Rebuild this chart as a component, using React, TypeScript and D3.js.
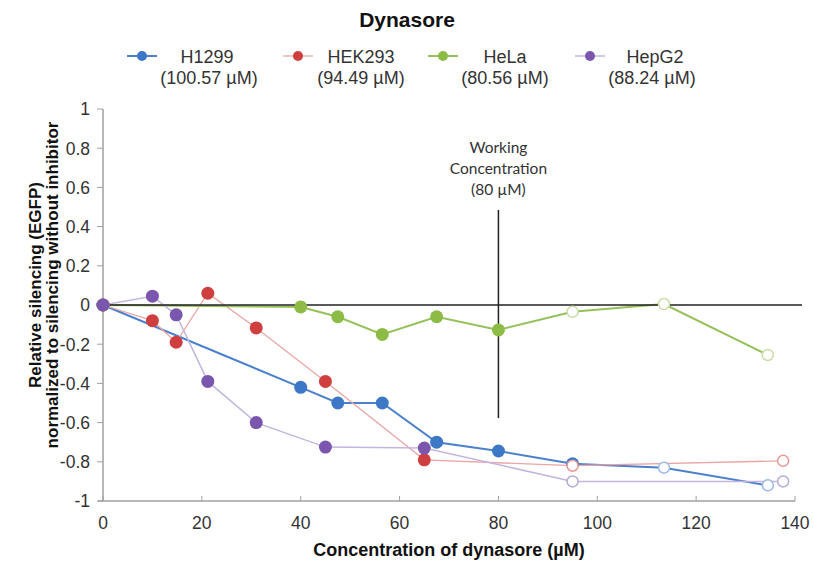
import * as d3 from "d3"

// concentrations (µM)
const concA = [0, 40, 47.5, 56.5, 67.5, 80, 95, 113.5, 134.5]
const concB = [0, 10, 14.8, 21.2, 31, 45, 65, 95, 137.6]

const h1299 = [0, -0.42, -0.5, -0.5, -0.7, -0.745, -0.81, -0.83, -0.92]
const hek293 = [0, -0.08, -0.19, 0.06, -0.117, -0.39, -0.79, -0.82, -0.795]
const hela = [0, -0.01, -0.06, -0.15, -0.06, -0.127, -0.035, 0.005, -0.255]
const hepg2 = [0, 0.045, -0.05, -0.39, -0.6, -0.725, -0.73, -0.9, -0.9]

const xTicks = [0, 20, 40, 60, 80, 100, 120, 140]
const yTicks = [1, 0.8, 0.6, 0.4, 0.2, 0, -0.2, -0.4, -0.6, -0.8, -1]

const series = [
  { name: "H1299", ic: "(100.57 µM)", x: concA, y: h1299, filled: 7, dot: "#3d78c6", line: "#4a80cc", lw: 2, open: "#9bb8e2" },
  { name: "HEK293", ic: "(94.49 µM)", x: concB, y: hek293, filled: 7, dot: "#d03f3f", line: "#eaa6a6", lw: 1.3, open: "#e89898" },
  { name: "HeLa", ic: "(80.56 µM)", x: concA, y: hela, filled: 6, dot: "#8cbc46", line: "#95c15a", lw: 2, open: "#c8dea6" },
  { name: "HepG2", ic: "(88.24 µM)", x: concB, y: hepg2, filled: 7, dot: "#7b56ae", line: "#c2b5de", lw: 1.5, open: "#b6a9d6" },
]

// legend layout: marker x, name centre, IC50 centre
const legendDot = [142, 298, 443, 590]
const legendName = [207, 361, 505, 655]
const legendIc = [209, 361, 505, 652]

export default function App() {
  const width = 814
  const height = 566
  const x = d3.scaleLinear().domain([0, 140]).range([103, 795])
  const y = d3.scaleLinear().domain([-1, 1]).range([501, 109])
  const font = "Arial, 'Liberation Sans', sans-serif"

  return (
    <svg width={width} height={height} style={{ position: "absolute", left: 0, top: 0, background: "#fff" }}>
      <text x={407} y={27} textAnchor="middle" fontFamily={font} fontWeight="bold" fontSize={21} fill="#111">
        Dynasore
      </text>

      {series.map((s, i) => (
        <g key={s.name}>
          <line x1={legendDot[i] - 15} x2={legendDot[i] + 15} y1={56} y2={56} stroke={s.line} strokeWidth={s.lw} />
          <circle cx={legendDot[i]} cy={56} r={5} fill={s.dot} />
          <text x={legendName[i]} y={63} textAnchor="middle" fontFamily={font} fontSize={18} fill="#333">
            {s.name}
          </text>
          <text x={legendIc[i]} y={84} textAnchor="middle" fontFamily={font} fontSize={18} fill="#333">
            {s.ic}
          </text>
        </g>
      ))}

      {/* y axis */}
      <line x1={x(0)} x2={x(0)} y1={y(1)} y2={y(-1)} stroke="#a0a0a0" strokeWidth={1.5} />
      {yTicks.map((t) => (
        <g key={t}>
          <line x1={x(0) - 6} x2={x(0)} y1={y(t)} y2={y(t)} stroke="#a0a0a0" strokeWidth={1} />
          <text x={90} y={y(t) + 6.3} textAnchor="end" fontFamily={font} fontSize={17.5} fill="#333">
            {t}
          </text>
        </g>
      ))}

      {/* x axis */}
      <line x1={x(0) - 5} x2={x(140)} y1={y(-1)} y2={y(-1)} stroke="#a0a0a0" strokeWidth={1.5} />
      {xTicks.map((t) => (
        <g key={t}>
          <line x1={x(t)} x2={x(t)} y1={y(-1) - 5} y2={y(-1)} stroke="#a0a0a0" strokeWidth={1} />
          <text x={x(t)} y={529} textAnchor="middle" fontFamily={font} fontSize={17.5} fill="#333">
            {t}
          </text>
        </g>
      ))}

      <text x={449} y={556} textAnchor="middle" fontFamily={font} fontWeight="bold" fontSize={18} fill="#111">
        Concentration of dynasore (µM)
      </text>
      <text transform="translate(41,285) rotate(-90)" textAnchor="middle" fontFamily={font} fontWeight="bold" fontSize={17} fill="#111">
        Relative silencing (EGFP)
      </text>
      <text transform="translate(58,285) rotate(-90)" textAnchor="middle" fontFamily={font} fontWeight="bold" fontSize={17} fill="#111">
        normalized to silencing without inhibitor
      </text>

      {/* series lines */}
      {series.map((s) => {
        const pts = s.x.map((v, j) => [v, s.y[j]] as [number, number])
        const path = d3.line<[number, number]>().x((d) => x(d[0])).y((d) => y(d[1]))(pts)
        return <path key={s.name} d={path ?? ""} fill="none" stroke={s.line} strokeWidth={s.lw} />
      })}

      {/* reference lines */}
      <line x1={x(0)} x2={802} y1={y(0)} y2={y(0)} stroke="#222" strokeWidth={1.5} />
      <line x1={x(80)} x2={x(80)} y1={y(0.485)} y2={y(-0.577)} stroke="#222" strokeWidth={1.5} />
      <g fontFamily="Lato, 'Open Sans', sans-serif" fontSize={15.5} fill="#333" textAnchor="middle">
        <text x={x(80)} y={153}>Working</text>
        <text x={x(80)} y={174}>Concentration</text>
        <text x={x(80)} y={195}>(80 µM)</text>
      </g>

      {/* markers */}
      {series.map((s) => (
        <g key={s.name}>
          {s.x.map((v, j) =>
            j < s.filled ? (
              <circle key={j} cx={x(v)} cy={y(s.y[j])} r={6.5} fill={s.dot} />
            ) : (
              <circle key={j} cx={x(v)} cy={y(s.y[j])} r={5.5} fill="#fff" stroke={s.open} strokeWidth={1.5} />
            )
          )}
        </g>
      ))}
    </svg>
  )
}
